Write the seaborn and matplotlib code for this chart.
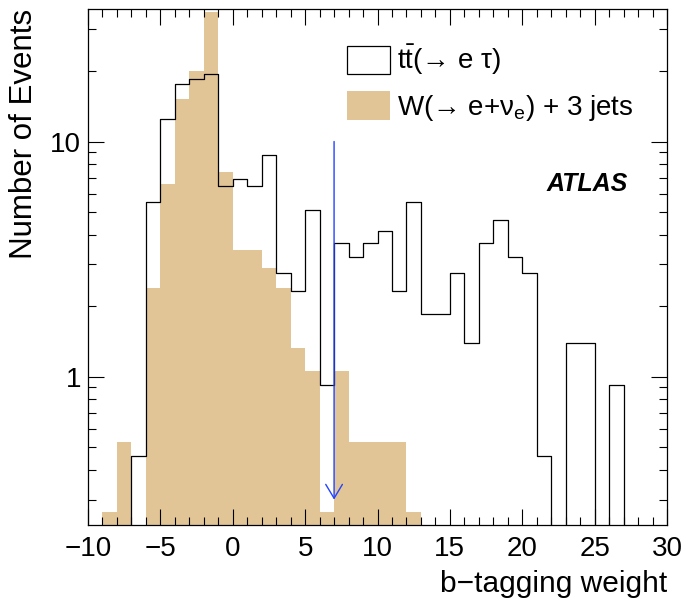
import numpy as np
import pandas as pd
import matplotlib
matplotlib.use("Agg")
import matplotlib.pyplot as plt
import seaborn as sns
from matplotlib.patches import Patch
from matplotlib.ticker import LogLocator, NullFormatter, FuncFormatter, MultipleLocator

# ---------------- data (bin width 1, from -10 to 30) ----------------
bin_edges = list(range(-10, 31))
bin_centers = [e + 0.5 for e in range(-10, 30)]

ttbar_events = [0, 0, 0, 0.46, 5.55, 12.5, 17.6, 18.5, 19.4, 6.5,
                6.93, 6.48, 8.78, 2.77, 2.31, 5.09, 0.92, 3.70, 3.23, 3.70,
                4.16, 2.31, 5.55, 1.85, 1.85, 2.77, 1.39, 3.70, 4.62, 3.23,
                2.77, 0.46, 0, 1.39, 1.39, 0, 0.92, 0, 0, 0]

wjets_events = [0, 0.265, 0.53, 0, 2.38, 6.61, 15.2, 20.0, 35.7, 7.4,
                3.44, 3.44, 2.91, 2.38, 1.32, 1.06, 0.265, 1.06, 0.53, 0.53,
                0.53, 0.53, 0.265, 0, 0, 0, 0, 0, 0, 0,
                0, 0, 0, 0, 0, 0, 0, 0, 0, 0]

legend_labels = [r"t$\mathrm{\bar{t}}$(→ e τ)", r"W(→ e+ν$_{\mathrm{e}}$) + 3 jets"]
x_label = "b−tagging weight"
y_label = "Number of Events"
cut_value = 7
arrow_range = [10, 0.30]

df = pd.DataFrame({"x": bin_centers, "tt": ttbar_events, "w": wjets_events})

# ---------------- style ----------------
sns.set_style("ticks")
plt.rcParams["font.family"] = ["Liberation Sans", "DejaVu Sans"]
plt.rcParams["mathtext.fontset"] = "custom"
plt.rcParams["mathtext.rm"] = "Liberation Sans"
plt.rcParams["mathtext.it"] = "Liberation Sans:italic"
plt.rcParams["mathtext.bf"] = "Liberation Sans:bold"
for k in ["text.color", "axes.labelcolor", "xtick.color", "ytick.color", "axes.edgecolor"]:
    plt.rcParams[k] = "black"

tan = "#E2C597"

fig = plt.figure(figsize=(6.84, 6.00), dpi=100)
W, H = 684, 600
left, right, top, bottom = 88, 667, 9, 525
ax = fig.add_axes([left / W, 1 - bottom / H, (right - left) / W, (bottom - top) / H])
ax.set_yscale("log")

sns.histplot(data=df, x="x", weights="tt", bins=bin_edges, element="step",
             fill=False, color="black", linewidth=0.9, ax=ax)
sns.histplot(data=df, x="x", weights="w", bins=bin_edges, element="step",
             fill=True, color=tan, alpha=1, linewidth=0, ax=ax)

ax.set_xlim(-10, 30)
ax.set_ylim(0.234, 36.6)

ax.annotate("", xy=(cut_value, arrow_range[1]), xytext=(cut_value, arrow_range[0]),
            arrowprops=dict(arrowstyle="->,head_length=0.5,head_width=0.3",
                            color="#2244ff", lw=1.0, mutation_scale=20,
                            shrinkA=0, shrinkB=0))

# ticks
ax.xaxis.set_major_locator(MultipleLocator(5))
ax.xaxis.set_minor_locator(MultipleLocator(1))
ax.yaxis.set_major_locator(LogLocator(base=10, subs=(1.0,)))
ax.yaxis.set_minor_locator(LogLocator(base=10, subs=np.arange(2, 10)))
ax.yaxis.set_minor_formatter(NullFormatter())
ax.yaxis.set_major_formatter(FuncFormatter(lambda v, p: f"{v:g}"))
ax.tick_params(which="both", direction="in", top=True, right=True, width=0.8, color="black")
ax.tick_params(which="major", length=11.5)
ax.tick_params(which="minor", length=5.5)
ax.tick_params(axis="x", which="major", labelsize=20, pad=8, labelcolor="black")
ax.tick_params(axis="y", which="major", labelsize=20, pad=5, labelcolor="black")
for s in ax.spines.values():
    s.set_linewidth(0.9)
    s.set_color("black")
ax.set_axisbelow(False)

ax.set_xlabel(x_label, fontsize=21.5, loc="right", labelpad=6, color="black")
ax.set_ylabel(y_label, fontsize=22.5, loc="top", labelpad=8, color="black")

# legend
handles = [Patch(facecolor="white", edgecolor="black", linewidth=0.9),
           Patch(facecolor=tan, edgecolor=tan, linewidth=0)]
leg = fig.legend(handles, legend_labels, loc="upper left",
                 bbox_to_anchor=(347 / W, 1 - 43 / H), bbox_transform=fig.transFigure,
                 frameon=False, fontsize=20, borderpad=0, borderaxespad=0,
                 handlelength=1.55, handleheight=1.2, handletextpad=0.25, labelspacing=0.5)
for t in leg.get_texts():
    t.set_color("black")

fig.text(587 / W, 1 - 184 / H, "ATLAS", fontsize=18, fontweight="bold",
         fontstyle="italic", ha="center", va="center", color="black")

fig.savefig("out.png", dpi=100, facecolor="white")
